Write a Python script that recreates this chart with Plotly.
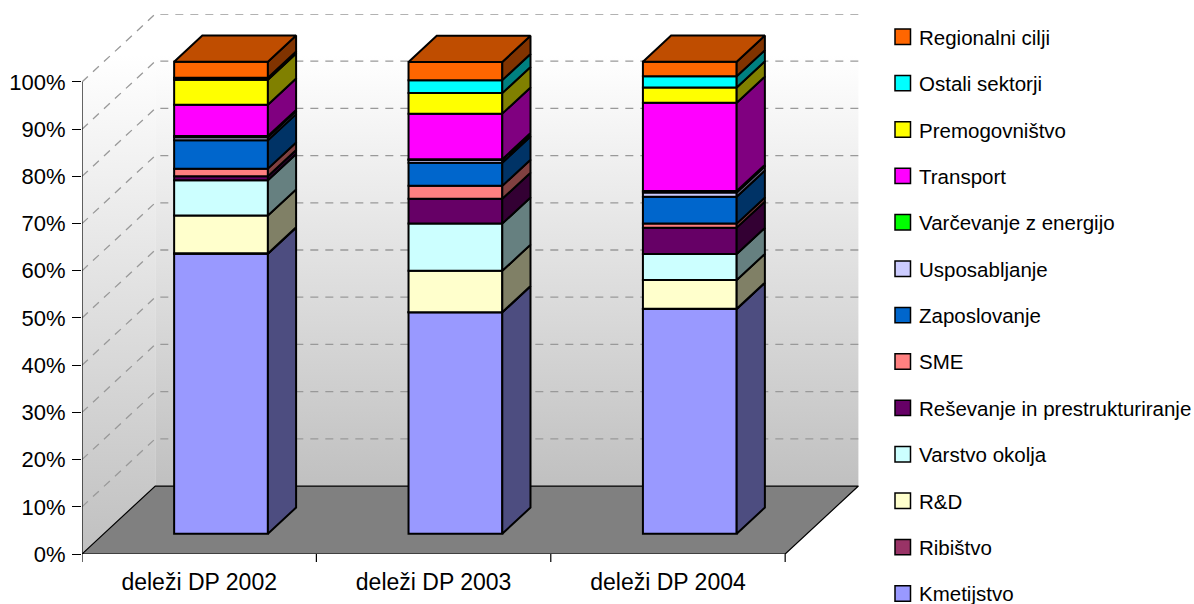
import plotly.graph_objects as go

categories = ["deleži DP 2002", "deleži DP 2003", "deleži DP 2004"]
kmetijstvo = [59.3, 46.9, 47.6]
ribistvo = [0.1, 0.05, 0.05]
rd = [8.0, 8.75, 6.1]
varstvo_okolja = [7.5, 10.0, 5.5]
resevanje = [0.85, 5.25, 5.6]
sme = [1.6, 2.75, 0.85]
zaposlovanje = [6.0, 4.9, 5.7]
usposabljanje = [0.65, 0.6, 0.9]
varcevanje = [0.25, 0.15, 0.3]
transport = [6.65, 9.65, 18.7]
premogovnistvo = [5.3, 4.35, 3.25]
ostali_sektorji = [0.4, 2.75, 2.35]
regionalni_cilji = [3.4, 3.85, 3.1]
y_ticks = list(range(0, 101, 10))

series = [
    ("Kmetijstvo", kmetijstvo, "#9999FF", "#4D4D80"),
    ("Ribištvo", ribistvo, "#993366", "#4D1A33"),
    ("R&D", rd, "#FFFFCC", "#808066"),
    ("Varstvo okolja", varstvo_okolja, "#CCFFFF", "#668080"),
    ("Reševanje in prestrukturiranje", resevanje, "#660066", "#330033"),
    ("SME", sme, "#FF8080", "#804040"),
    ("Zaposlovanje", zaposlovanje, "#0066CC", "#003366"),
    ("Usposabljanje", usposabljanje, "#CCCCFF", "#666680"),
    ("Varčevanje z energijo", varcevanje, "#00FF00", "#008000"),
    ("Transport", transport, "#FF00FF", "#800080"),
    ("Premogovništvo", premogovnistvo, "#FFFF00", "#808000"),
    ("Ostali sektorji", ostali_sektorji, "#00FFFF", "#008080"),
    ("Regionalni cilji", regionalni_cilji, "#FF6600", "#803300"),
]
TOP_COLOR = "#BF4D00"

# oblique projection, in axis units
X_MAX = 3.315
Y_MAX = 114.4
DX = 0.3125
DY = 14.4
D0, D1 = 0.298, 0.683
BAR_W = 0.4
FONT = "Liberation Sans, Arial, sans-serif"
W, H = 1194, 604
ML, MR, MT, MB = 82, 335, 14, 50


def proj(x, v, d):
    return x + d * DX, v + d * DY


def paper_x(px):
    return (px - ML) / (W - ML - MR)


def paper_y(py):
    return (H - MB - py) / (H - MT - MB)


fig = go.Figure()

# walls
grad = lambda a, b, w: dict(type="vertical", colorscale=[[0, "#C0C0C0"], [w, "#FFFFFF"], [1, "#FFFFFF"]], start=a, stop=b)
fig.add_trace(go.Scatter(x=[0, DX, DX, 0, 0], y=[0, DY, 100 + DY, 100, 0], mode="none", fill="toself",
                         fillgradient=grad(0, Y_MAX, 0.924), showlegend=False, hoverinfo="skip"))
fig.add_trace(go.Scatter(x=[DX, 3 + DX, 3 + DX, DX, DX], y=[DY, DY, 100 + DY, 100 + DY, DY], mode="none", fill="toself",
                         fillgradient=grad(DY, Y_MAX, 0.913), showlegend=False, hoverinfo="skip"))
# gridlines
gx, gy = [], []
for t in y_ticks[1:]:
    gx += [0, DX, 3 + DX, None]
    gy += [t, t + DY, t + DY, None]
fig.add_trace(go.Scatter(x=gx, y=gy, mode="lines", line=dict(color="#999999", width=1.3, dash="8px,7px"),
                         showlegend=False, hoverinfo="skip"))
# floor
fig.add_trace(go.Scatter(x=[0, DX, 3 + DX, 3, 0], y=[0, DY, DY, 0, 0], mode="lines", fill="toself",
                         fillcolor="#808080", line=dict(color="black", width=1.2),
                         showlegend=False, hoverinfo="skip"))
# value axis line
fig.add_trace(go.Scatter(x=[0, 0], y=[0, 100], mode="lines", line=dict(color="black", width=1.2),
                         cliponaxis=False, showlegend=False, hoverinfo="skip"))

# stacked bars, on an overlaid pair of axes so they sit above the walls
centers = [c + 0.5 for c in range(len(categories))]
x_front = [proj(c, 0, D0)[0] for c in centers]
base_off = D0 * DY
bases = [base_off] * len(categories)
dd = D1 - D0
for name, vals, col, side in series:
    fig.add_trace(go.Bar(name=name, x=x_front, y=vals, base=bases, width=BAR_W, xaxis="x2", yaxis="y2",
                         marker=dict(color=col, line=dict(color="black", width=2)),
                         showlegend=False, hoverinfo="skip"))
    sx, sy = [], []
    for xc, b, v in zip(x_front, bases, vals):
        xr = xc + BAR_W / 2
        sx += [xr, xr + dd * DX, xr + dd * DX, xr, xr, None]
        sy += [b, b + dd * DY, b + v + dd * DY, b + v, b, None]
    fig.add_trace(go.Scatter(x=sx, y=sy, mode="lines", fill="toself", fillcolor=side, xaxis="x2", yaxis="y2",
                             line=dict(color="black", width=2), showlegend=False, hoverinfo="skip"))
    bases = [b + v for b, v in zip(bases, vals)]

# top faces
tx, ty = [], []
for xc, b in zip(x_front, bases):
    xl, xr = xc - BAR_W / 2, xc + BAR_W / 2
    tx += [xl, xr, xr + dd * DX, xl + dd * DX, xl, None]
    ty += [b, b, b + dd * DY, b + dd * DY, b, None]
fig.add_trace(go.Scatter(x=tx, y=ty, mode="lines", fill="toself", fillcolor=TOP_COLOR, xaxis="x2", yaxis="y2",
                         line=dict(color="black", width=2), showlegend=False, hoverinfo="skip"))

# category tick marks
shapes = [dict(type="line", xref="x", yref="paper", x0=c, x1=c, y0=0, y1=-8 / (H - MT - MB),
               line=dict(color="black", width=1.2)) for c in range(len(categories) + 1)]

# legend, top to bottom
LEG_TOP, LEG_STEP = 36.7, 46.4
annotations = []
for i, (name, vals, col, side) in enumerate(reversed(series)):
    py = LEG_TOP + i * LEG_STEP
    shapes.append(dict(type="rect", xref="paper", yref="paper", x0=paper_x(895), x1=paper_x(910.5),
                       y0=paper_y(py + 7.7), y1=paper_y(py - 7.7), fillcolor=col,
                       line=dict(color="black", width=1.5)))
    annotations.append(dict(xref="paper", yref="paper", x=paper_x(917), y=paper_y(py + 0.5), text=name.replace("&", "&amp;"),
                            showarrow=False, xanchor="left", yanchor="middle",
                            font=dict(size=20.5, family=FONT, color="black")))

fig.update_layout(
    width=W, height=H, autosize=False,
    margin=dict(l=ML, r=MR, t=MT, b=MB, pad=0, autoexpand=False),
    paper_bgcolor="white", plot_bgcolor="rgba(0,0,0,0)",
    barmode="overlay", showlegend=False,
    font=dict(family=FONT, color="black"),
    shapes=shapes, annotations=annotations,
    xaxis=dict(range=[0, X_MAX], tickmode="array", tickvals=centers, ticktext=categories, ticks="", automargin=False,
               showgrid=False, zeroline=False, showline=False, tickfont=dict(size=23), ticklabelstandoff=12),
    yaxis=dict(range=[0, Y_MAX], tickmode="array", tickvals=y_ticks, ticktext=[f"{t}%" for t in y_ticks], automargin=False,
               ticks="outside", ticklen=9, tickwidth=1.2, tickcolor="black", showgrid=False, zeroline=False,
               showline=False, tickfont=dict(size=22), ticklabelstandoff=2),
    xaxis2=dict(range=[0, X_MAX], overlaying="x", visible=False),
    yaxis2=dict(range=[0, Y_MAX], overlaying="y", visible=False),
)
fig.write_html("out.html", config={"displayModeBar": False},
               post_script="document.body.style.margin='0';document.body.style.overflow='hidden';")
